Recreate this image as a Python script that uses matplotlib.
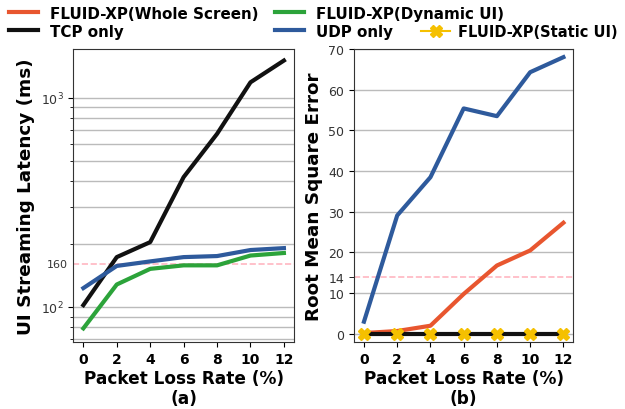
import matplotlib.pyplot as plt
from matplotlib.lines import Line2D
import matplotlib.ticker as mticker

loss = [0, 2, 4, 6, 8, 10, 12]

# (a) latency in ms
lat_tcp = [102, 173, 204, 417, 671, 1183, 1503]
lat_udp = [123, 157, 165, 173, 175, 187, 191]
lat_dyn = [79, 128, 152, 158, 158, 176, 181]
lat_thresh = 160

# (b) RMSE
rmse_udp = [3.0, 29.1, 38.5, 55.4, 53.5, 64.3, 68.0]
rmse_whole = [0.2, 0.7, 2.0, 9.8, 16.8, 20.5, 27.3]
rmse_tcp = [0, 0, 0, 0, 0, 0, 0]
rmse_static = [0, 0, 0, 0, 0, 0, 0]
rmse_thresh = 14

c_whole = '#e8562f'
c_tcp = '#111111'
c_dyn = '#2ca33a'
c_udp = '#2e5a9c'
c_static = '#f5c000'
c_grid = '#bbbbbb'

fig = plt.figure(figsize=(6.25, 4.1), dpi=100)
ax1 = fig.add_axes([0.1173, 0.1634, 0.353, 0.7146])
ax2 = fig.add_axes([0.5664, 0.1634, 0.351, 0.7146])

lw = 3

# left panel
ax1.plot(loss, lat_tcp, color=c_tcp, lw=lw, zorder=3)
ax1.plot(loss, lat_udp, color=c_udp, lw=lw, zorder=3)
ax1.plot(loss, lat_dyn, color=c_dyn, lw=lw, zorder=3)
ax1.axhline(lat_thresh, color='#ffb6c1', lw=1.2, ls='--', zorder=2)
ax1.set_yscale('log')
ax1.set_ylim(68, 1706)
ax1.yaxis.set_minor_formatter(mticker.NullFormatter())
ax1.grid(True, which='both', axis='y', color=c_grid, lw=1)
ax1.text(-0.025, lat_thresh, str(lat_thresh), transform=ax1.get_yaxis_transform(),
         ha='right', va='center', fontsize=8, color='#333333')
ax1.set_ylabel('UI Streaming Latency (ms)', fontsize=13.2, fontweight='bold')
ax1.set_xlabel('Packet Loss Rate (%)\n(a)', fontsize=12.2, fontweight='bold', labelpad=2)

# right panel
ax2.plot(loss, rmse_udp, color=c_udp, lw=lw, zorder=3)
ax2.plot(loss, rmse_whole, color=c_whole, lw=lw, zorder=3)
ax2.plot(loss, rmse_static, color=c_static, lw=1.5, zorder=2.5)
ax2.plot(loss, rmse_tcp, color=c_tcp, lw=lw, zorder=3)
# markers for the static UI series sit on top of the TCP line
ax2.plot(loss, rmse_static, color=c_static, ls='none', marker='X', ms=9, zorder=4)
ax2.axhline(rmse_thresh, color='#ffb6c1', lw=1.2, ls='--', zorder=2)
ax2.set_ylim(-2, 70)
ax2.set_yticks(range(0, 71, 10))
ax2.set_yticks([rmse_thresh], minor=True)
ax2.set_yticklabels([str(rmse_thresh)], minor=True)
ax2.tick_params(axis='y', which='minor', length=3.5)
ax2.grid(True, which='major', axis='y', color=c_grid, lw=1)
ax2.set_ylabel('Root Mean Square Error', fontsize=13.2, fontweight='bold')
ax2.set_xlabel('Packet Loss Rate (%)\n(b)', fontsize=12.2, fontweight='bold', labelpad=2)

for ax in (ax1, ax2):
    ax.set_xticks(loss)
    ax.set_axisbelow(True)
    for lab in ax.get_xticklabels():
        lab.set_fontweight('bold')
    ax.tick_params(axis='x', labelsize=10)
    ax.tick_params(axis='y', which='both', labelsize=9, labelcolor='#333333')
    for s in ax.spines.values():
        s.set_color('#333333')

handles = [
    Line2D([], [], color=c_whole, lw=lw, label='FLUID-XP(Whole Screen)'),
    Line2D([], [], color=c_tcp, lw=lw, label='TCP only'),
    Line2D([], [], color=c_dyn, lw=lw, label='FLUID-XP(Dynamic UI)'),
    Line2D([], [], color=c_udp, lw=lw, label='UDP only'),
]
fig.legend(handles=handles, ncol=2, loc='upper left', bbox_to_anchor=(-0.008, 1.017),
           frameon=False, prop={'weight': 'bold', 'size': 10.9},
           handlelength=1.95, columnspacing=1.06, labelspacing=0.2, handletextpad=0.8)
static_h = Line2D([], [], color=c_static, lw=1.5, marker='X', ms=8, label='FLUID-XP(Static UI)')
fig.legend(handles=[static_h], loc='upper left', bbox_to_anchor=(0.653, 0.971),
           frameon=False, prop={'weight': 'bold', 'size': 10.5},
           handlelength=2.0, handletextpad=0.55)

fig.savefig('out.png', dpi=100)
